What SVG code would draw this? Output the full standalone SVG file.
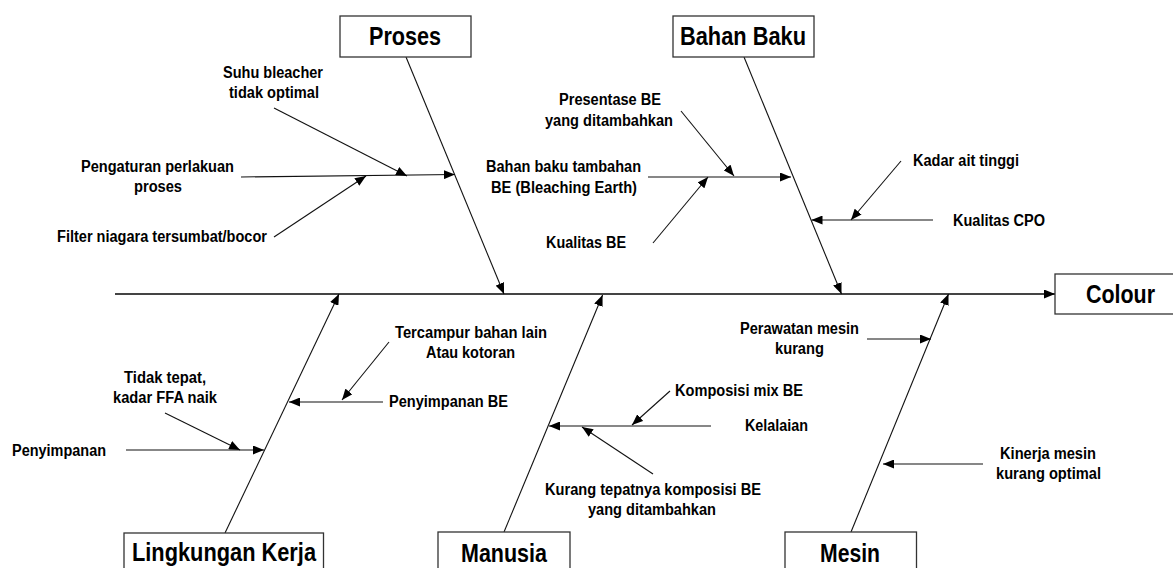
<svg xmlns="http://www.w3.org/2000/svg" width="1173" height="568" viewBox="0 0 1173 568">
<style>
.box{fill:#fff;stroke:#333;stroke-width:1.3}
.title{font-family:"Liberation Sans",Arial,sans-serif;font-weight:bold;font-size:25px;fill:#000}
.lbl{font-family:"Liberation Sans",Arial,sans-serif;font-weight:bold;font-size:16px;fill:#000}
.ln{stroke:#111;stroke-width:1.1;fill:none;marker-end:url(#ah)}
.main{stroke:#444;stroke-width:1.8;fill:none;marker-end:url(#ah)}
</style>
<defs>
<marker id="ah" markerUnits="userSpaceOnUse" markerWidth="11" markerHeight="9" refX="11" refY="4.5" orient="auto">
<path d="M0,0 L11,4.5 L0,9 z" fill="#000"/>
</marker>
</defs>
<rect width="1173" height="568" fill="#fff"/>
<g id="connectors">
<line class="main" x1="115" y1="294" x2="1055" y2="294"/>
<line class="ln" x1="406" y1="57" x2="504" y2="294"/>
<line class="ln" x1="744" y1="57" x2="841.5" y2="294"/>
<line class="ln" x1="225" y1="533" x2="339" y2="294"/>
<line class="ln" x1="504" y1="532" x2="602.6" y2="295"/>
<line class="ln" x1="851" y1="532" x2="948.5" y2="294"/>
<line class="ln" x1="241" y1="177" x2="455" y2="174.5"/>
<line class="ln" x1="274" y1="108" x2="407" y2="176"/>
<line class="ln" x1="274" y1="237" x2="366" y2="176"/>
<line class="ln" x1="681" y1="111" x2="734" y2="176"/>
<line class="ln" x1="648" y1="177" x2="791" y2="177"/>
<line class="ln" x1="653" y1="243" x2="708" y2="177"/>
<line class="ln" x1="901" y1="161" x2="851" y2="220"/>
<line class="ln" x1="933" y1="220" x2="811.5" y2="220"/>
<line class="ln" x1="389" y1="342" x2="342" y2="400"/>
<line class="ln" x1="383" y1="402" x2="289" y2="402"/>
<line class="ln" x1="165" y1="413" x2="240" y2="450"/>
<line class="ln" x1="126" y1="450" x2="264" y2="450"/>
<line class="ln" x1="867" y1="339" x2="931" y2="339"/>
<line class="ln" x1="670" y1="391" x2="632" y2="425"/>
<line class="ln" x1="711" y1="426" x2="549" y2="426"/>
<line class="ln" x1="653" y1="474" x2="582" y2="427"/>
<line class="ln" x1="983" y1="464" x2="883" y2="464"/>
</g>
<g id="proses">
<rect class="box" x="340" y="16" width="131" height="41"/>
<text class="title" x="369" y="45" textLength="72" lengthAdjust="spacingAndGlyphs">Proses</text>
</g>
<g id="bahan-baku">
<rect class="box" x="673" y="16" width="141" height="41"/>
<text class="title" x="680" y="45" textLength="126" lengthAdjust="spacingAndGlyphs">Bahan Baku</text>
</g>
<g id="colour">
<rect class="box" x="1055" y="274" width="130" height="40"/>
<text class="title" x="1086" y="303" textLength="69" lengthAdjust="spacingAndGlyphs">Colour</text>
</g>
<g id="lingkungan-kerja">
<rect class="box" x="124" y="533" width="199.5" height="50"/>
<text class="title" x="132" y="561" textLength="184" lengthAdjust="spacingAndGlyphs">Lingkungan Kerja</text>
</g>
<g id="manusia">
<rect class="box" x="438" y="532" width="132" height="50"/>
<text class="title" x="461" y="562" textLength="86" lengthAdjust="spacingAndGlyphs">Manusia</text>
</g>
<g id="mesin">
<rect class="box" x="785" y="532" width="131.5" height="50"/>
<text class="title" x="820" y="562" textLength="60" lengthAdjust="spacingAndGlyphs">Mesin</text>
</g>
<g id="suhu-bleacher">
<text class="lbl" x="223" y="78" textLength="100" lengthAdjust="spacingAndGlyphs">Suhu bleacher</text>
<text class="lbl" x="229" y="98" textLength="90" lengthAdjust="spacingAndGlyphs">tidak optimal</text>
</g>
<g id="pengaturan">
<text class="lbl" x="81" y="172" textLength="153" lengthAdjust="spacingAndGlyphs">Pengaturan perlakuan</text>
<text class="lbl" x="134" y="192" textLength="48" lengthAdjust="spacingAndGlyphs">proses</text>
</g>
<g id="filter">
<text class="lbl" x="57" y="242" textLength="210" lengthAdjust="spacingAndGlyphs">Filter niagara tersumbat/bocor</text>
</g>
<g id="presentase">
<text class="lbl" x="559" y="105" textLength="102" lengthAdjust="spacingAndGlyphs">Presentase BE</text>
<text class="lbl" x="545" y="126" textLength="128" lengthAdjust="spacingAndGlyphs">yang ditambahkan</text>
</g>
<g id="bahan-tambahan">
<text class="lbl" x="486" y="172" textLength="155" lengthAdjust="spacingAndGlyphs">Bahan baku tambahan</text>
<text class="lbl" x="491" y="193" textLength="146" lengthAdjust="spacingAndGlyphs">BE (Bleaching Earth)</text>
</g>
<g id="kualitas-be">
<text class="lbl" x="546" y="248" textLength="80" lengthAdjust="spacingAndGlyphs">Kualitas BE</text>
</g>
<g id="kadar-air">
<text class="lbl" x="913" y="166" textLength="106" lengthAdjust="spacingAndGlyphs">Kadar ait tinggi</text>
</g>
<g id="kualitas-cpo">
<text class="lbl" x="953" y="226" textLength="92" lengthAdjust="spacingAndGlyphs">Kualitas CPO</text>
</g>
<g id="tercampur">
<text class="lbl" x="395" y="338" textLength="152" lengthAdjust="spacingAndGlyphs">Tercampur bahan lain</text>
<text class="lbl" x="426" y="358" textLength="89" lengthAdjust="spacingAndGlyphs">Atau kotoran</text>
</g>
<g id="penyimpanan-be">
<text class="lbl" x="389" y="407" textLength="119" lengthAdjust="spacingAndGlyphs">Penyimpanan BE</text>
</g>
<g id="tidak-tepat">
<text class="lbl" x="124" y="383" textLength="82" lengthAdjust="spacingAndGlyphs">Tidak tepat,</text>
<text class="lbl" x="113" y="403" textLength="104" lengthAdjust="spacingAndGlyphs">kadar FFA naik</text>
</g>
<g id="penyimpanan">
<text class="lbl" x="12" y="456" textLength="94" lengthAdjust="spacingAndGlyphs">Penyimpanan</text>
</g>
<g id="perawatan">
<text class="lbl" x="740" y="334" textLength="119" lengthAdjust="spacingAndGlyphs">Perawatan mesin</text>
<text class="lbl" x="775" y="354" textLength="49" lengthAdjust="spacingAndGlyphs">kurang</text>
</g>
<g id="komposisi">
<text class="lbl" x="675" y="396" textLength="128" lengthAdjust="spacingAndGlyphs">Komposisi mix BE</text>
</g>
<g id="kelalaian">
<text class="lbl" x="745" y="431" textLength="63" lengthAdjust="spacingAndGlyphs">Kelalaian</text>
</g>
<g id="kurang-tepat">
<text class="lbl" x="545" y="495" textLength="216" lengthAdjust="spacingAndGlyphs">Kurang tepatnya komposisi BE</text>
<text class="lbl" x="588" y="515" textLength="128" lengthAdjust="spacingAndGlyphs">yang ditambahkan</text>
</g>
<g id="kinerja">
<text class="lbl" x="1000" y="459" textLength="96" lengthAdjust="spacingAndGlyphs">Kinerja mesin</text>
<text class="lbl" x="996" y="479" textLength="105" lengthAdjust="spacingAndGlyphs">kurang optimal</text>
</g>
</svg>
